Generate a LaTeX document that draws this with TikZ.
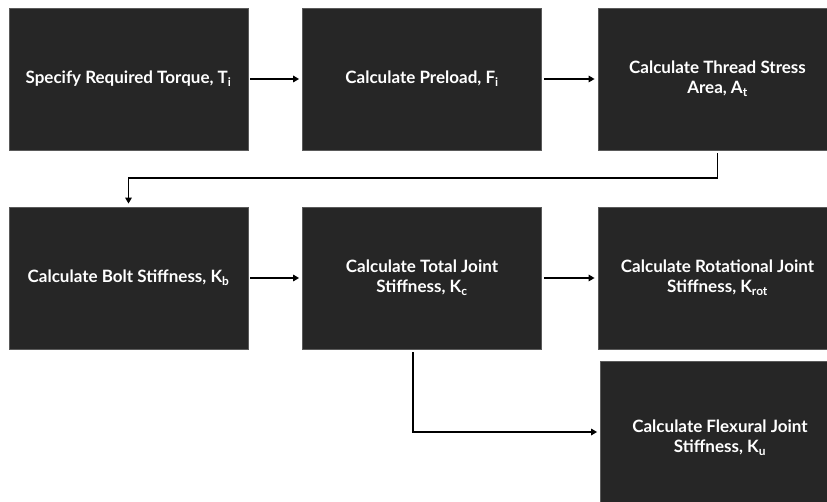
\documentclass[tikz,border=0pt]{standalone}
\usepackage{fontspec}
\setmainfont{Lato}
\usetikzlibrary{arrows.meta}
\definecolor{boxfill}{HTML}{262626}
\definecolor{boxline}{HTML}{5A5A5A}
\begin{document}
\begin{tikzpicture}[x=1pt,y=-1pt,
 stepbox/.style={draw=boxline,fill=boxfill,line width=0.8pt,minimum width=239pt,minimum height=142pt,inner sep=0pt,text=white,font=\bfseries\fontsize{17}{20}\selectfont,align=center},
 conn/.style={line width=1.9pt,-{Triangle[length=6pt,width=6.5pt]}}]
\useasboundingbox (0,0) rectangle (827,502);
\fill[white] (0,0) rectangle (827,502);
\clip (0,0) rectangle (827,502);
\node[stepbox] (b1) at (128.5,79) {Specify Required Torque, T\textsubscript{i}};
\node[stepbox] (b2) at (422,79) {Calculate Preload, F\textsubscript{i}};
\node[stepbox] (b3) at (717.5,79) {Calculate Thread Stress\\Area, A\textsubscript{t}};
\node[stepbox] (b4) at (128.5,278) {Calculate Bolt Stiffness, K\textsubscript{b}};
\node[stepbox] (b5) at (422,278) {Calculate Total Joint\\Stiffness, K\textsubscript{c}};
\node[stepbox] (b6) at (717.5,278) {Calculate Rotational Joint\\Stiffness, K\textsubscript{rot}};
\node[stepbox,minimum height=154pt] (b7) at (720,438) {Calculate Flexural Joint\\Stiffness, K\textsubscript{u}};
\draw[conn] ([xshift=2pt]b1.east) -- ([xshift=-3pt]b2.west);
\draw[conn] ([xshift=2pt]b2.east) -- ([xshift=-3pt]b3.west);
\draw[conn] ([yshift=-3pt]b3.south) -- ++(0,25) -| ([yshift=3pt]b4.north);
\draw[conn] ([xshift=2pt]b4.east) -- ([xshift=-3pt]b5.west);
\draw[conn] ([xshift=2pt]b5.east) -- ([xshift=-3pt]b6.west);
\draw[conn] ([xshift=-9pt,yshift=-3pt]b5.south) |- ([xshift=-3pt,yshift=6pt]b7.west);
\end{tikzpicture}
\end{document}
